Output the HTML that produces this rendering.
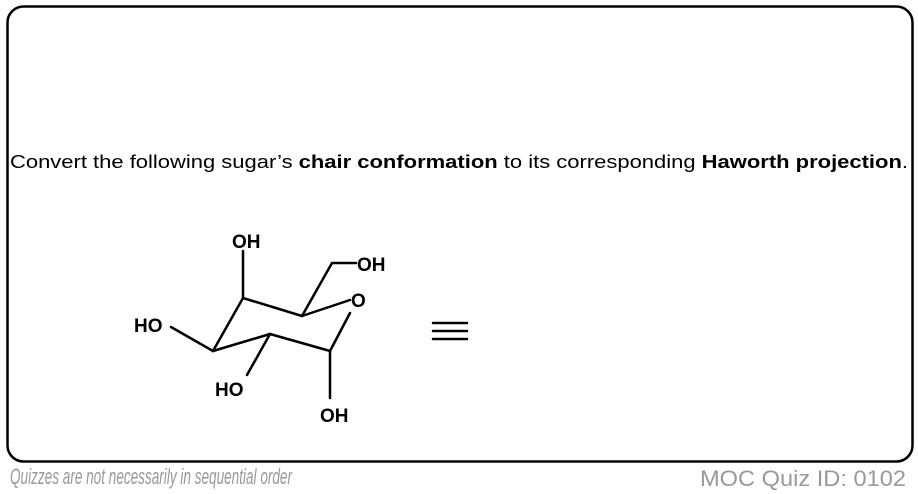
<!DOCTYPE html>
<html><head><style>
html,body{margin:0;padding:0;background:#fff;width:918px;height:494px;overflow:hidden}
svg{display:block}
text{font-family:"Liberation Sans",Arial,sans-serif}
</style></head><body>
<svg width="918" height="494" viewBox="0 0 918 494" xmlns="http://www.w3.org/2000/svg">
<rect x="7.5" y="6.5" width="905" height="455" rx="16" ry="16" fill="none" stroke="#000" stroke-width="2.5"/>
<text x="10" y="168" font-size="18.5" textLength="898" lengthAdjust="spacingAndGlyphs">Convert the following sugar’s <tspan font-weight="bold">chair conformation</tspan> to its corresponding <tspan font-weight="bold">Haworth projection</tspan>.</text>
<g stroke="#000" stroke-width="2.5" fill="none" stroke-linecap="round" stroke-linejoin="round">
<polyline points="213,351 243,298 302,316 350,300"/>
<polyline points="213,351 270,334 330,351 350,313"/>
<line x1="243" y1="298" x2="243" y2="251"/>
<polyline points="302,316 332,263 356,263"/>
<line x1="330" y1="351" x2="330" y2="398"/>
<line x1="270" y1="334" x2="247" y2="375"/>
<line x1="213" y1="351" x2="171" y2="327"/>
<line x1="433" y1="323" x2="467" y2="323"/>
<line x1="433" y1="331" x2="467" y2="331"/>
<line x1="433" y1="339" x2="467" y2="339"/>
</g>
<g font-weight="bold" font-size="19">
<text x="232" y="248">OH</text>
<text x="357" y="271">OH</text>
<text x="351" y="307">O</text>
<text x="320" y="422">OH</text>
<text x="215" y="396">HO</text>
<text x="134" y="332">HO</text>
</g>
<text x="10" y="484" font-size="22" font-style="italic" fill="#999" textLength="282" lengthAdjust="spacingAndGlyphs">Quizzes are not necessarily in sequential order</text>
<text x="700" y="486" font-size="22" fill="#999" textLength="206" lengthAdjust="spacingAndGlyphs">MOC Quiz ID: 0102</text>
</svg>
</body></html>
